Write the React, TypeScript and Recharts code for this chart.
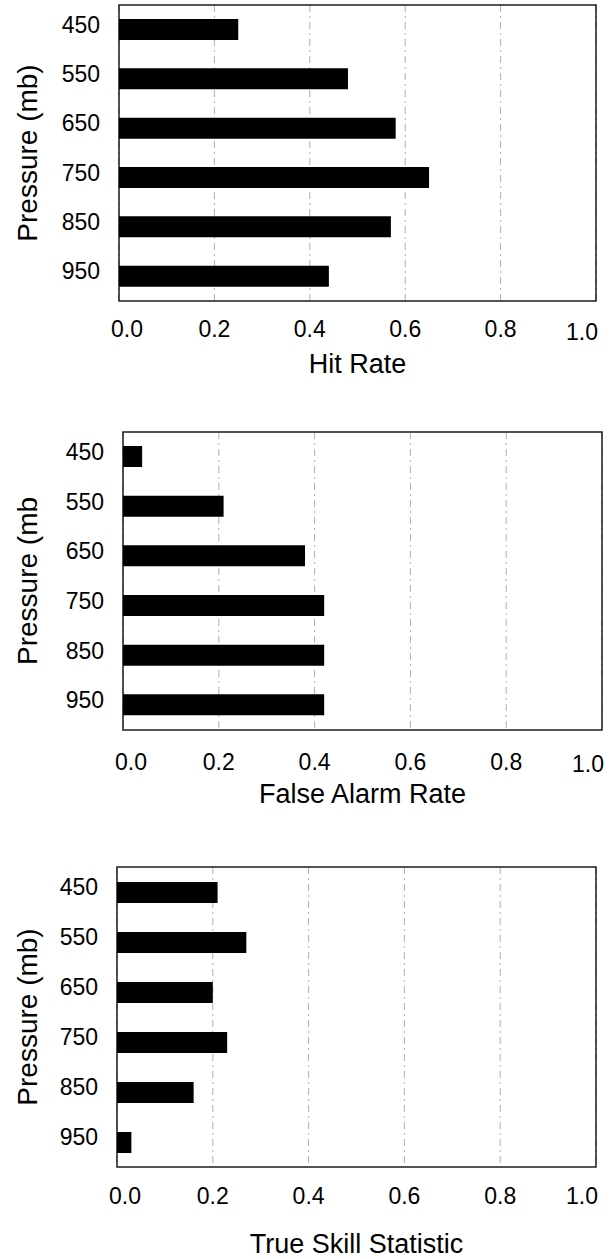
import { BarChart, Bar, XAxis, YAxis, CartesianGrid, ReferenceArea, Label } from 'recharts';

const levels = ['450', '550', '650', '750', '850', '950'];
const hitRate = [0.25, 0.48, 0.58, 0.65, 0.57, 0.44];
const falseAlarmRate = [0.04, 0.21, 0.38, 0.42, 0.42, 0.42];
const trueSkill = [0.21, 0.27, 0.2, 0.23, 0.16, 0.03];
const rateTicks = [0, 0.2, 0.4, 0.6, 0.8, 1.0];

const FONT = '"Liberation Sans", Arial, Helvetica, sans-serif';

const LevelTick = ({ x, y, payload }: any) => (
  <text x={x} y={y - 5} textAnchor="end" dominantBaseline="central" fontSize={23} fontFamily={FONT} fill="#000">
    {payload.value}
  </text>
);

// edge labels sit a little inside the frame; the last one drops slightly
const makeRateTick = (lastDrop: number) => ({ x, y, payload, index }: any) => {
  const last = index === rateTicks.length - 1;
  const shift = index === 0 ? 8 : last ? -14 : 0;
  return (
    <text x={x + shift} y={y + (last ? lastDrop : 0)} textAnchor="middle" fontSize={23} fontFamily={FONT} fill="#000">
      {Number(payload.value).toFixed(1)}
    </text>
  );
};

interface PanelProps {
  values: number[];
  xTitle: string;
  yTitle: string;
  top: number;
  height: number;
  plotTop: number;
  plotBottom: number;
  plotLeft: number;
  plotRight: number;
  tickBaseline: number;
  lastDrop: number;
  titleBaseline: number;
}

function Panel(p: PanelProps) {
  const data = levels.map((level, i) => ({ level, value: p.values[i] }));
  const RateTick = makeRateTick(p.lastDrop);
  return (
    <div style={{ position: 'absolute', left: 0, top: p.top, width: 610, height: p.height }}>
      <BarChart
        width={610}
        height={p.height}
        data={data}
        layout="vertical"
        margin={{ top: p.plotTop, right: 610 - p.plotRight, left: 0, bottom: 0 }}
      >
        <CartesianGrid horizontal={false} stroke="#9a9a9a" strokeDasharray="7 4 2 4" strokeWidth={0.8} />
        <XAxis
          type="number"
          domain={[0, 1]}
          ticks={rateTicks}
          height={p.height - p.plotBottom}
          axisLine={false}
          tickLine={false}
          tickSize={0}
          tickMargin={p.tickBaseline}
          tick={<RateTick />}
          interval={0}
        >
          <Label
            content={({ viewBox }: any) => (
              <text
                x={viewBox.x + viewBox.width / 2}
                y={viewBox.y + p.titleBaseline}
                textAnchor="middle"
                fontSize={27}
                fontFamily={FONT}
                fill="#000"
              >
                {p.xTitle}
              </text>
            )}
          />
        </XAxis>
        <YAxis
          type="category"
          dataKey="level"
          width={p.plotLeft}
          axisLine={false}
          tickLine={false}
          tickSize={0}
          tickMargin={19}
          tick={<LevelTick />}
          interval={0}
        >
          <Label
            content={({ viewBox }: any) => {
              const cx = 27;
              const cy = viewBox.y + viewBox.height / 2;
              return (
                <text
                  x={cx}
                  y={cy}
                  transform={`rotate(-90, ${cx}, ${cy})`}
                  textAnchor="middle"
                  dominantBaseline="central"
                  fontSize={28}
                  fontFamily={FONT}
                  fill="#000"
                >
                  {p.yTitle}
                </text>
              );
            }}
          />
        </YAxis>
        <Bar dataKey="value" fill="#000" barSize={21} isAnimationActive={false} />
        <ReferenceArea x1={0} x2={1} fill="none" fillOpacity={0} stroke="#1c1c1c" strokeWidth={1.5} />
      </BarChart>
    </div>
  );
}

export default function App() {
  return (
    <div style={{ position: 'absolute', left: 0, top: 0, width: 610, height: 1259, background: '#fff', overflow: 'hidden' }}>
      <Panel
        values={hitRate}
        xTitle="Hit Rate"
        yTitle="Pressure (mb)"
        top={0}
        height={420}
        plotTop={5}
        plotBottom={301}
        plotLeft={119}
        plotRight={596}
        tickBaseline={36}
        lastDrop={3}
        titleBaseline={72}
      />
      <Panel
        values={falseAlarmRate}
        xTitle="False Alarm Rate"
        yTitle="Pressure (mb"
        top={420}
        height={420}
        plotTop={12}
        plotBottom={310}
        plotLeft={123}
        plotRight={602}
        tickBaseline={40}
        lastDrop={2}
        titleBaseline={73}
      />
      <Panel
        values={trueSkill}
        xTitle="True Skill Statistic"
        yTitle="Pressure (mb)"
        top={840}
        height={419}
        plotTop={27}
        plotBottom={327}
        plotLeft={117}
        plotRight={596}
        tickBaseline={37}
        lastDrop={0}
        titleBaseline={86}
      />
    </div>
  );
}
